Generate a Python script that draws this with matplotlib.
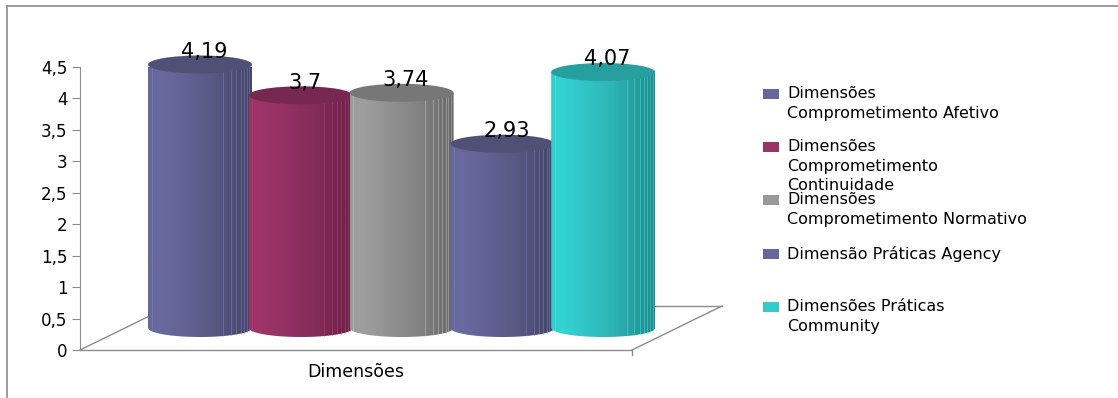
import numpy as np
import matplotlib
matplotlib.use("Agg")
import matplotlib.pyplot as plt
from matplotlib.patches import Ellipse, Polygon, Rectangle
from matplotlib.lines import Line2D
from matplotlib.colors import to_rgb

# data
series = ["Dimensões\nComprometimento Afetivo",
          "Dimensões\nComprometimento\nContinuidade",
          "Dimensões\nComprometimento Normativo",
          "Dimensão Práticas Agency",
          "Dimensões Práticas\nCommunity"]
values = [4.19, 3.7, 3.74, 2.93, 4.07]
value_labels = ["4,19", "3,7", "3,74", "2,93", "4,07"]
category = "Dimensões"
yticks = [0, 0.5, 1, 1.5, 2, 2.5, 3, 3.5, 4, 4.5]
ytick_labels = ["0", "0,5", "1", "1,5", "2", "2,5", "3", "3,5", "4", "4,5"]
colors = ["#666699", "#993366", "#999999", "#666699", "#33CCCC"]

W, H = 1118, 398
fig = plt.figure(figsize=(W / 100, H / 100), dpi=100)

# axes placed in pixel terms: y axis at x=80, value 0 at y=350, 4.5 at y=67
px_x = 100.8            # pixels per category
px_y = (350 - 67) / 4.5  # pixels per value unit
c0 = 200                 # pixel x of first cylinder centre
ax = fig.add_axes([80 / W, (H - 350) / H, (722 - 80) / W, 283 / H])
xmin, xmax = (80 - c0) / px_x, (722 - c0) / px_x

depth_x = 90 / px_x
depth_y = 44 / px_y
front_right = (632 - c0) / px_x

# floor
grey = "#8c8c8c"
fl = dict(color=grey, lw=1, clip_on=False, zorder=1)
ax.plot([xmin, front_right], [0, 0], **fl)
ax.plot([xmin, xmin + depth_x], [0, depth_y], **fl)
ax.plot([front_right, front_right + depth_x], [0, depth_y], **fl)
ax.plot([xmin + depth_x, front_right + depth_x], [depth_y, depth_y], **fl)
ax.plot([front_right, front_right], [0, -5 / px_y], **fl)

a = 52 / px_x
b = 9 / px_y
base = depth_y / 2


def shade(c, f):
    r = np.array(to_rgb(c)) * f
    return np.clip(r, 0, 1)


for i, (v, c) in enumerate(zip(values, colors)):
    x = i
    y0 = base
    y1 = base + v
    z = 2 + i
    # body with horizontal gradient
    u = np.linspace(-1, 1, 80)
    f = np.interp(u, [-1, -0.8, 0.2, 1], [1.0, 1.04, 0.88, 0.68])
    grad = np.array([shade(c, k) for k in f])[None, :, :]
    bx = x + a * u
    by = y0 - b * np.sqrt(1 - u ** 2)
    body = Polygon(np.column_stack([np.r_[bx, bx[::-1]], np.r_[by, np.full_like(bx, y1)]]),
                   closed=True, transform=ax.transData)
    im = ax.imshow(grad, extent=[x - a, x + a, y0 - b, y1], aspect="auto",
                   interpolation="bilinear", zorder=z, clip_on=True)
    im.set_clip_path(body)
    # light stripes (facets) on the right side
    for s in [-0.93, 0.45, 0.6, 0.7, 0.78, 0.85, 0.9, 0.95]:
        ax.plot([x + a * s, x + a * s], [y0 - b * np.sqrt(1 - s ** 2), y1],
                color=shade(c, 1.4), lw=0.6, alpha=0.45, zorder=z + 0.1, clip_on=False)
    top = Ellipse((x, y1), 2 * a, 2 * b, facecolor=shade(c, 0.78), edgecolor="none",
                  zorder=z + 0.2, clip_on=False)
    ax.add_patch(top)
    ax.text(x + 0.04, y1 + 0.2, value_labels[i], ha="center", va="center",
            fontsize=15, color="black", zorder=20, clip_on=False)

ax.set_xlim(xmin, xmax)
ax.set_ylim(0, 4.5)
ax.set_yticks(yticks)
ax.set_yticklabels(ytick_labels)
ax.set_xticks([])
for sp in ["top", "right", "bottom"]:
    ax.spines[sp].set_visible(False)
ax.spines["left"].set_color(grey)
ax.tick_params(axis="y", direction="out", length=6, color=grey, labelsize=12,
               labelcolor="black", pad=3)
ax.patch.set_alpha(0)

ax.text((xmin + front_right) / 2, -22 / px_y, category, ha="center", va="center",
        fontsize=12.5, clip_on=False)

# chart frame (top and left edges only)
fig.add_artist(Line2D([7 / W, 1], [1 - 6 / H, 1 - 6 / H], color=grey, lw=1.2))
fig.add_artist(Line2D([7 / W, 7 / W], [0, 1 - 6 / H], color=grey, lw=1.2))

# legend
entry_y = [94, 147, 200, 254, 307]
for lab, c, ey in zip(series, colors, entry_y):
    fig.add_artist(Rectangle((763 / W, 1 - (ey + 5) / H), 16 / W, 10 / H,
                             facecolor=c, edgecolor="none", transform=fig.transFigure))
    fig.text(787 / W, 1 - (ey - 8) / H, lab, ha="left", va="top", fontsize=11.5,
             linespacing=1.38)

fig.savefig("out.png", dpi=100)
